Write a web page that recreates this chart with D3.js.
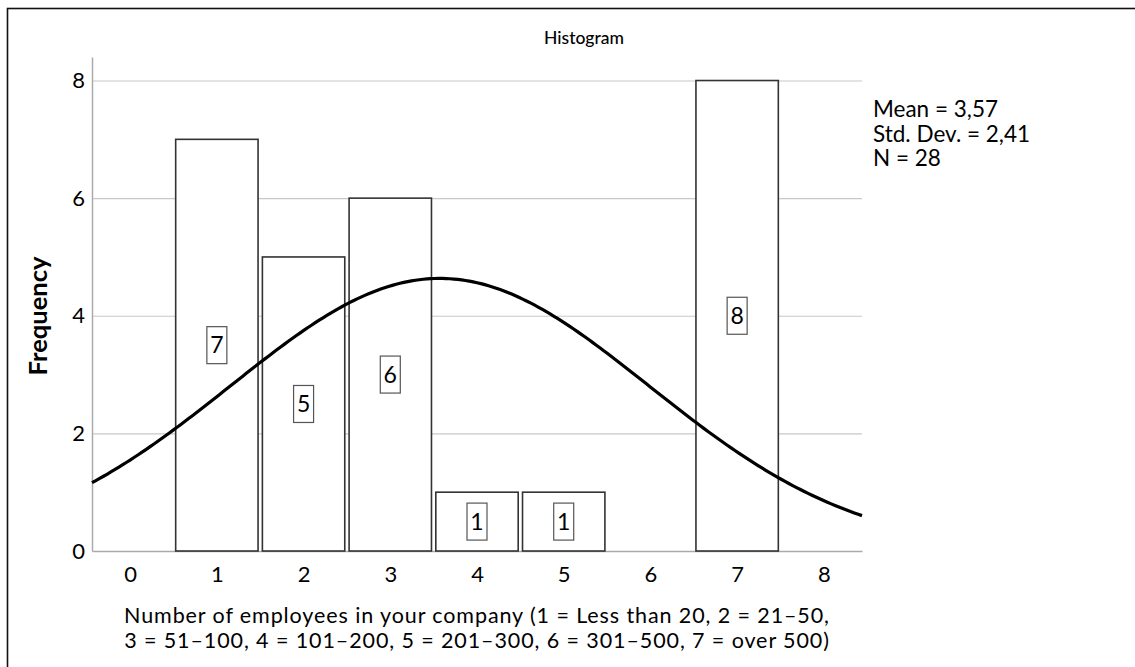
<!DOCTYPE html>
<html>
<head>
<meta charset="utf-8">
<script src="https://cdn.jsdelivr.net/npm/d3@7"></script>
<style>
  html, body { margin: 0; padding: 0; background: #fff; overflow: hidden; }
  svg { display: block; overflow: hidden; }
  svg text { font-family: Lato, "Open Sans", sans-serif; fill: #000; }
</style>
</head>
<body>
<svg id="chart" width="1135" height="667"></svg>
<script>
// Frequencies per employee-size category (SPSS histogram)
const categories = [1, 2, 3, 4, 5, 6, 7];
const frequencies = [7, 5, 6, 1, 1, 0, 8];
const xTicks = [0, 1, 2, 3, 4, 5, 6, 7, 8];
const yTicks = [0, 2, 4, 6, 8];
const statMean = 3.57;
const statSD = 2.41;
const statN = 28;
const statLines = ["Mean = 3,57", "Std. Dev. = 2,41", "N = 28"];
const xLabelLines = [
  "Number of employees in your company (1 = Less than 20, 2 = 21\u201350,",
  "3 = 51\u2013100, 4 = 101\u2013200, 5 = 201\u2013300, 6 = 301\u2013500, 7 = over 500)"
];

const svg = d3.select("#chart");
const plot = { left: 92, right: 862, top: 57, bottom: 551 };

const x = d3.scaleLinear().domain([-0.44, 8.44]).range([plot.left, plot.right]);
const y = d3.scaleLinear().domain([0, 8.4]).range([plot.bottom, plot.top]);

// outer frame (runs off the right and bottom edges)
svg.append("rect")
  .attr("x", 7.5).attr("y", 8.5)
  .attr("width", 1160).attr("height", 690)
  .attr("fill", "none").attr("stroke", "#111").attr("stroke-width", 1.6);

// title
svg.append("text")
  .attr("x", 584).attr("y", 44)
  .attr("text-anchor", "middle")
  .attr("font-size", 17.5)
  .attr("font-weight", 500)
  .text("Histogram");

// gridlines
svg.append("g")
  .selectAll("line")
  .data(yTicks.filter(d => d > 0))
  .join("line")
  .attr("x1", plot.left).attr("x2", plot.right)
  .attr("y1", d => y(d) + 0.5).attr("y2", d => y(d) + 0.5)
  .attr("stroke", "#c8c8c8").attr("stroke-width", 1.2);

// y axis
const yAxis = d3.axisLeft(y).tickValues(yTicks).tickSize(0).tickPadding(7).tickFormat(d3.format("d"));
const gy = svg.append("g").attr("transform", `translate(${plot.left},0)`).call(yAxis);
gy.select(".domain").attr("stroke", "#aaaaaa").attr("stroke-width", 1.5);
gy.selectAll("text").attr("font-size", 22).attr("font-family", "Lato, sans-serif");

// x axis
const xAxis = d3.axisBottom(x).tickValues(xTicks).tickSize(0).tickPadding(15).tickFormat(d3.format("d"));
const gx = svg.append("g").attr("transform", `translate(0,${plot.bottom})`).call(xAxis);
gx.select(".domain").attr("stroke", "#aaaaaa").attr("stroke-width", 1.5);
gx.selectAll("text").attr("font-size", 22).attr("font-family", "Lato, sans-serif");

// bars
const halfWidth = 0.475;
const bins = categories.map((c, i) => ({ c, f: frequencies[i] })).filter(d => d.f > 0);
svg.append("g")
  .selectAll("rect")
  .data(bins)
  .join("rect")
  .attr("x", d => x(d.c - halfWidth))
  .attr("y", d => y(d.f))
  .attr("width", d => x(d.c + halfWidth) - x(d.c - halfWidth))
  .attr("height", d => y(0) - y(d.f))
  .attr("fill", "#fff")
  .attr("stroke", "#333").attr("stroke-width", 1.6);

// normal curve
const binWidth = 1;
const normal = v => statN * binWidth / (statSD * Math.sqrt(2 * Math.PI)) *
  Math.exp(-0.5 * Math.pow((v - statMean) / statSD, 2));
const curveXs = d3.range(0, 201).map(i => x.domain()[0] + (x.domain()[1] - x.domain()[0]) * i / 200);
svg.append("path")
  .datum(curveXs)
  .attr("d", d3.line().x(v => x(v)).y(v => y(normal(v))))
  .attr("fill", "none").attr("stroke", "#000").attr("stroke-width", 3.2);

// value labels inside bars
const labels = svg.append("g").selectAll("g").data(bins).join("g")
  .attr("transform", d => `translate(${x(d.c)},${y(d.f / 2)})`);
labels.append("rect")
  .attr("x", -10).attr("y", -18.5).attr("width", 20).attr("height", 37)
  .attr("fill", "#fff").attr("stroke", "#555").attr("stroke-width", 1.2);
labels.append("text")
  .attr("text-anchor", "middle").attr("dy", "0.36em")
  .attr("font-size", 23)
  .text(d => d.f);

// y axis title
svg.append("text")
  .attr("transform", `translate(47,316) rotate(-90)`)
  .attr("text-anchor", "middle")
  .attr("font-size", 25.5)
  .attr("font-weight", "bold")
  .text("Frequency");

// x axis title, two lines
svg.append("g")
  .selectAll("text")
  .data(xLabelLines)
  .join("text")
  .attr("text-anchor", "middle")
  .attr("font-size", 21.5)
  .attr("letter-spacing", 0.9)
  .attr("x", 477)
  .attr("y", (d, i) => 623 + i * 25)
  .text(d => d);

// summary statistics
svg.append("text")
  .attr("font-size", 22.5)
  .selectAll("tspan")
  .data(statLines)
  .join("tspan")
  .attr("x", 873)
  .attr("y", (d, i) => 117 + i * 24.5)
  .text(d => d);
</script>
</body>
</html>
